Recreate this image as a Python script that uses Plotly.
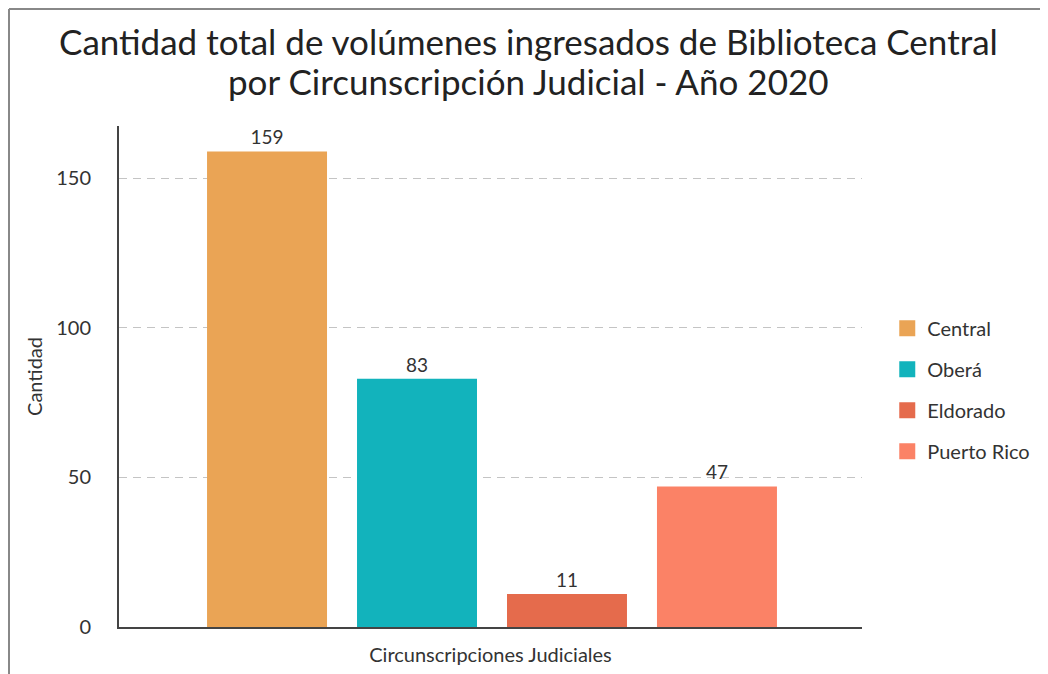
import plotly.graph_objects as go

categorias = ["Central", "Oberá", "Eldorado", "Puerto Rico"]
cantidades = [159, 83, 11, 47]
colores = ["#EAA455", "#12B3BC", "#E56B4C", "#FB8266"]
ticks_y = [0, 50, 100, 150]

titulo_1 = "Cantidad total de volúmenes ingresados de Biblioteca Central"
titulo_2 = "por Circunscripción Judicial - Año 2020"

fig = go.Figure()

# barras (sin leyenda propia)
for cat, val, col in zip(categorias, cantidades, colores):
    fig.add_trace(go.Bar(
        x=[cat], y=[val], name=cat,
        marker_color=col, marker_line_width=0,
        width=0.8,
        text=[str(val)], textposition="outside",
        textfont=dict(size=19, color="#333333"),
        cliponaxis=False,
        showlegend=False,
    ))

# entradas de leyenda con cuadrados más grandes
for cat, col in zip(categorias, colores):
    fig.add_trace(go.Scatter(
        x=[None], y=[None], name=cat, mode="markers",
        marker=dict(symbol="square", size=17, color=col),
        legendgroup=cat,
    ))

fig.update_layout(
    font=dict(family="Lato", size=20, color="#333333"),
    barmode="overlay",
    plot_bgcolor="white",
    paper_bgcolor="white",
    width=1048, height=674,
    margin=dict(l=111, r=194, t=118, b=55),
    xaxis=dict(
        range=[-0.987, 3.967],
        showticklabels=False, ticks="",
        showline=True, linecolor="#444444", linewidth=2,
        showgrid=False,
        title=dict(text="Circunscripciones Judiciales", standoff=20,
                   font=dict(size=20, color="#333333")),
    ),
    yaxis=dict(
        range=[0, 167.5],
        tickvals=ticks_y,
        showline=True, linecolor="#444444", linewidth=2,
        showgrid=True, gridcolor="#C4C4C4", griddash="8px,6px", gridwidth=1,
        zeroline=False,
        ticks="", ticklabelstandoff=22,
        tickfont=dict(size=20, color="#333333"),
        title=dict(text="Cantidad", standoff=8,
                   font=dict(size=20, color="#333333")),
    ),
    legend=dict(
        x=1.034, xanchor="left", y=0.635, yanchor="top",
        font=dict(size=20, color="#333333"),
        tracegroupgap=12,
        itemwidth=30,
    ),
    annotations=[
        dict(text=titulo_1, xref="paper", yref="paper", x=0.5505, y=1.1687,
             xanchor="center", yanchor="middle", showarrow=False,
             font=dict(family="Lato", size=35, color="#222222")),
        dict(text=titulo_2, xref="paper", yref="paper", x=0.5505, y=1.0895,
             xanchor="center", yanchor="middle", showarrow=False,
             font=dict(family="Lato", size=35, color="#222222")),
    ],
    shapes=[
        dict(type="line", xref="paper", yref="paper",
             x0=-110 / 743, x1=-110 / 743, y0=-1, y1=1 + 117 / 501,
             line=dict(color="#888888", width=2)),
        dict(type="line", xref="paper", yref="paper",
             x0=-110 / 743, x1=2, y0=1 + 117 / 501, y1=1 + 117 / 501,
             line=dict(color="#888888", width=2)),
    ],
)

fig.write_html("out.html")
